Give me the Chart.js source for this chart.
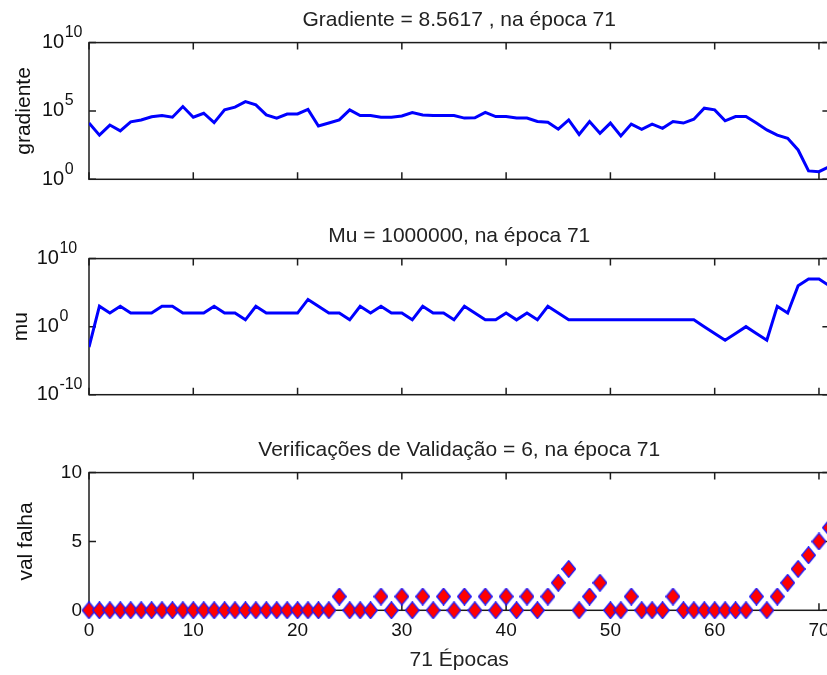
<!DOCTYPE html>
<html>
<head>
<meta charset="utf-8">
<script src="https://cdn.jsdelivr.net/npm/chart.js@4.4.1/dist/chart.umd.min.js"></script>
<style>
  html, body { margin: 0; padding: 0; background: #fff; overflow: hidden; width: 827px; height: 675px; }
  canvas.panel { position: absolute; left: 0; }
</style>
</head>
<body>
<canvas id="cGrad" class="panel" width="860" height="216" style="top:0px"></canvas>
<canvas id="cMu" class="panel" width="860" height="214" style="top:216px"></canvas>
<canvas id="cVal" class="panel" width="860" height="245" style="top:430px"></canvas>
<script>
// Training record, one entry per epoch (0 … 71)
const gradient = [
  1.3e4, 1.7e3, 9.3e3, 3.5e3, 1.6e4, 2.2e4, 3.8e4, 4.6e4, 3.5e4, 2.1e5,
  3.5e4, 6.8e4, 1.4e4, 1.2e5, 1.9e5, 4.8e5, 2.8e5, 5.1e4, 3.0e4, 6.0e4,
  6.0e4, 1.3e5, 7.9e3, 1.3e4, 2.2e4, 1.2e5, 4.6e4, 4.6e4, 3.5e4, 3.5e4,
  4.3e4, 7.6e4, 5.1e4, 4.6e4, 4.6e4, 4.6e4, 3.0e4, 3.2e4, 7.9e4, 3.9e4,
  3.9e4, 3.0e4, 3.0e4, 1.7e4, 1.5e4, 4.6e3, 2.2e4, 1.9e3, 1.7e4, 2.3e3,
  1.3e4, 1.5e3, 1.1e4, 4.6e3, 1.1e4, 5.4e3, 1.7e4, 1.3e4, 2.5e4, 1.6e5,
  1.2e5, 1.9e4, 3.9e4, 3.9e4, 1.3e4, 4.1e3, 1.7e3, 1.0e3, 1.4e2, 4.1,
  3.6, 8.5617
];

const mu = [
  1e-3, 1e3, 1e2, 1e3, 1e2, 1e2, 1e2, 1e3, 1e3, 1e2,
  1e2, 1e2, 1e3, 1e2, 1e2, 1e1, 1e3, 1e2, 1e2, 1e2,
  1e2, 1e4, 1e3, 1e2, 1e2, 1e1, 1e3, 1e2, 1e3, 1e2,
  1e2, 1e1, 1e3, 1e2, 1e2, 1e1, 1e3, 1e2, 1e1, 1e1,
  1e2, 1e1, 1e2, 1e1, 1e3, 1e2, 1e1, 1e1, 1e1, 1e1,
  1e1, 1e1, 1e1, 1e1, 1e1, 1e1, 1e1, 1e1, 1e1, 1e0,
  1e-1, 1e-2, 1e-1, 1e0, 1e-1, 1e-2, 1e3, 1e2, 1e6, 1e7,
  1e7, 1e6
];

const valFail = [
  0, 0, 0, 0, 0, 0, 0, 0, 0, 0, 0, 0,
  0, 0, 0, 0, 0, 0, 0, 0, 0, 0, 0, 0,
  1, 0, 0, 0, 1, 0, 1, 0, 1, 0, 1, 0,
  1, 0, 1, 0, 1, 0, 1, 0, 1, 2, 3, 0,
  1, 2, 0, 0, 1, 0, 0, 0, 1, 0, 0, 0,
  0, 0, 0, 0, 1, 0, 1, 2, 3, 4, 5, 6
];

// Axis ticks
const epochTicks = [0, 10, 20, 30, 40, 50, 60, 70];
const gradTicks = [1, 1e5, 1e10];
const muTicks = [1e-10, 1, 1e10];
const valTicks = [0, 5, 10];

const FONT = '"Liberation Sans", Arial, Helvetica, sans-serif';
const TEXT = '#111111';
const TITLE = '#222222';

const points = arr => arr.map((v, i) => ({ x: i, y: v }));

// Diamond marker: red face, thin blue edge
const diamond = (() => {
  const w = 15, h = 18;
  const c = document.createElement('canvas');
  c.width = w; c.height = h;
  const g = c.getContext('2d');
  g.beginPath();
  g.moveTo(w / 2, 0.7);
  g.lineTo(w - 0.7, h / 2);
  g.lineTo(w / 2, h - 0.7);
  g.lineTo(0.7, h / 2);
  g.closePath();
  g.fillStyle = '#ff0000';
  g.fill();
  g.strokeStyle = '#1a1aff';
  g.lineWidth = 1.3;
  g.stroke();
  return c;
})();

// Boxed axes with inward tick marks on all four sides, plus y tick labels
const boxedAxes = {
  id: 'boxedAxes',
  beforeDatasetsDraw(chart, args, opts) {
    const { ctx, chartArea: a } = chart;
    const x = chart.scales.x, y = chart.scales.y;
    const L = 7;
    ctx.save();
    ctx.strokeStyle = '#1c1c1c';
    ctx.lineWidth = 1.5;
    ctx.strokeRect(a.left, a.top, a.right - a.left, a.bottom - a.top);
    ctx.beginPath();
    opts.xTicks.forEach(v => {
      const px = x.getPixelForValue(v);
      ctx.moveTo(px, a.top); ctx.lineTo(px, a.top + L);
      ctx.moveTo(px, a.bottom); ctx.lineTo(px, a.bottom - L);
    });
    opts.yTicks.forEach(v => {
      const py = y.getPixelForValue(v);
      ctx.moveTo(a.left, py); ctx.lineTo(a.left + L, py);
      ctx.moveTo(a.right, py); ctx.lineTo(a.right - L, py);
    });
    ctx.stroke();

    ctx.fillStyle = TEXT;
    ctx.textBaseline = 'middle';
    const right = 82;
    if (opts.log) {
      const exps = opts.yTicks.map(v => String(Math.round(Math.log10(v))));
      ctx.font = '16px ' + FONT;
      const supW = Math.max(...exps.map(e => ctx.measureText(e).width));
      const baseRight = right - supW;
      opts.yTicks.forEach((v, i) => {
        const py = y.getPixelForValue(v);
        ctx.font = '20px ' + FONT;
        ctx.textAlign = 'right';
        ctx.fillText('10', baseRight, py);
        ctx.font = '16px ' + FONT;
        ctx.textAlign = 'left';
        ctx.fillText(exps[i], baseRight + 0.5, py - 10);
      });
    } else {
      ctx.font = '19px ' + FONT;
      ctx.textAlign = 'right';
      opts.yTicks.forEach(v => ctx.fillText(String(v), right, y.getPixelForValue(v)));
    }
    ctx.restore();
  }
};

function titleOpts(text) {
  return {
    display: true, text, fullSize: false, color: TITLE,
    font: { family: FONT, size: 21, weight: 'normal' },
    padding: { top: 8, bottom: 9.4 }
  };
}

function yScale(type, min, max, label, titlePad) {
  return {
    type, min, max, display: true,
    grid: { display: false, drawTicks: false },
    border: { display: false },
    ticks: { display: false },
    title: {
      display: true, text: label, color: TEXT,
      font: { family: FONT, size: 21, weight: 'normal' },
      padding: { top: titlePad, bottom: 0 }
    },
    afterFit(s) { s.width = 89; }
  };
}

const common = {
  responsive: false,
  animation: false,
  events: [],
  devicePixelRatio: 1
};

// Gradient
new Chart(document.getElementById('cGrad'), {
  type: 'line',
  data: { datasets: [{
    data: points(gradient), borderColor: '#0000ff', borderWidth: 3,
    pointRadius: 0, tension: 0, fill: false
  }] },
  options: Object.assign({}, common, {
    layout: { padding: { left: 0, right: 30.6, top: 0, bottom: 36.7 } },
    plugins: {
      legend: { display: false }, tooltip: { enabled: false },
      title: titleOpts('Gradiente = 8.5617 , na época 71'),
      boxedAxes: { xTicks: epochTicks, yTicks: gradTicks, log: true }
    },
    scales: {
      x: { type: 'linear', min: 0, max: 71, display: false },
      y: yScale('logarithmic', 1, 1e10, 'gradiente', 12)
    }
  }),
  plugins: [boxedAxes]
});

// Mu
new Chart(document.getElementById('cMu'), {
  type: 'line',
  data: { datasets: [{
    data: points(mu), borderColor: '#0000ff', borderWidth: 3,
    pointRadius: 0, tension: 0, fill: false
  }] },
  options: Object.assign({}, common, {
    layout: { padding: { left: 0, right: 30.6, top: 0, bottom: 35.3 } },
    plugins: {
      legend: { display: false }, tooltip: { enabled: false },
      title: titleOpts('Mu = 1000000, na época 71'),
      boxedAxes: { xTicks: epochTicks, yTicks: muTicks, log: true }
    },
    scales: {
      x: { type: 'linear', min: 0, max: 71, display: false },
      y: yScale('logarithmic', 1e-10, 1e10, 'mu', 8.4)
    }
  }),
  plugins: [boxedAxes]
});

// Validation checks
new Chart(document.getElementById('cVal'), {
  type: 'line',
  data: { datasets: [{
    data: points(valFail), showLine: false, pointStyle: diamond,
    pointRadius: 8, clip: false
  }] },
  options: Object.assign({}, common, {
    layout: { padding: { left: 0, right: 30.6, top: 0, bottom: 0 } },
    plugins: {
      legend: { display: false }, tooltip: { enabled: false },
      title: titleOpts('Verificações de Validação = 6, na época 71'),
      boxedAxes: { xTicks: epochTicks, yTicks: valTicks, log: false }
    },
    scales: {
      x: {
        type: 'linear', min: 0, max: 71,
        afterBuildTicks(s) { s.ticks = epochTicks.map(v => ({ value: v })); },
        grid: { display: false, drawTicks: false },
        border: { display: false },
        ticks: { color: TEXT, font: { family: FONT, size: 19 }, padding: 9.3, maxRotation: 0, autoSkip: false },
        title: {
          display: true, text: '71 Épocas', color: TITLE,
          font: { family: FONT, size: 21, weight: 'normal' },
          padding: { top: 0, bottom: 2.4 }
        },
        afterFit(s) { s.height = 64.7; }
      },
      y: yScale('linear', 0, 10, 'val falha', 13.6)
    }
  }),
  plugins: [boxedAxes]
});
</script>
</body>
</html>
